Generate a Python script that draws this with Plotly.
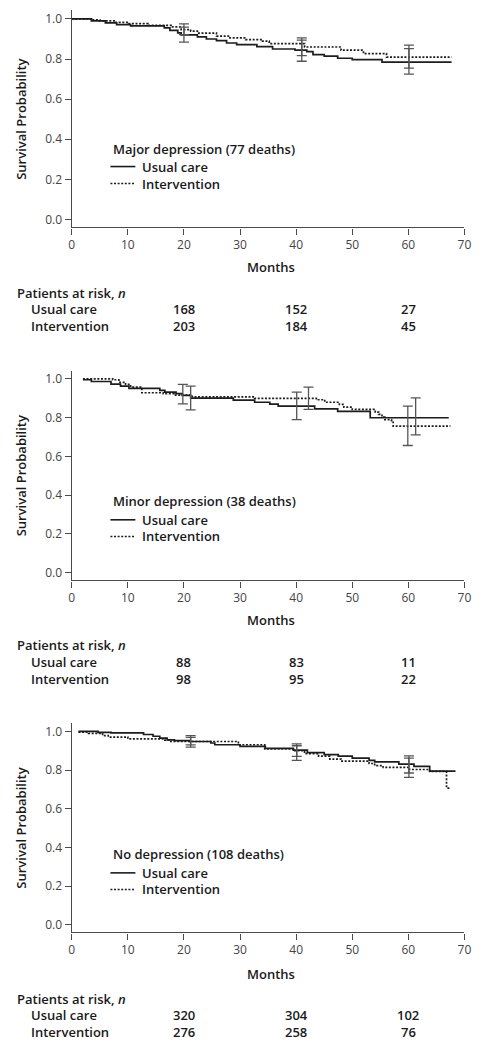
import plotly.graph_objects as go

# ---------------- data ----------------
risk_months = [20, 40, 60]

# Major depression
maj_uc_t = [0, 3.5, 6, 8, 10.5, 16.5, 17.5, 18.9, 19.5, 22.4, 24, 25.8, 27.6, 29.4, 33, 35.8, 39.8, 41.9, 43, 45, 47.4, 50, 55.3, 67.7]
maj_uc_s = [1.0, 0.99, 0.98, 0.972, 0.965, 0.955, 0.943, 0.93, 0.92, 0.91, 0.9, 0.892, 0.88, 0.872, 0.862, 0.85, 0.844, 0.837, 0.822, 0.814, 0.804, 0.797, 0.785, 0.785]
maj_iv_t = [0, 3.5, 5, 7.9, 10.1, 13.6, 17.7, 19.5, 21.2, 22.4, 25.8, 28.2, 31, 34, 35.2, 41.5, 48, 52, 56.1, 67.7]
maj_iv_s = [1.0, 0.995, 0.99, 0.983, 0.977, 0.968, 0.96, 0.947, 0.939, 0.929, 0.914, 0.905, 0.897, 0.889, 0.877, 0.86, 0.844, 0.827, 0.81, 0.81]
maj_ci_x = [20.0, 20.0, 41.0, 41.0, 60.1, 60.1]
maj_ci_lo = [0.884, 0.922, 0.789, 0.817, 0.725, 0.755]
maj_ci_hi = [0.959, 0.975, 0.894, 0.905, 0.852, 0.869]
maj_uc_n = [168, 152, 27]
maj_iv_n = [203, 184, 45]

# Minor depression
min_uc_t = [2.0, 3.5, 7, 8.7, 10.2, 15.7, 16.6, 18.6, 19.7, 21.2, 28.8, 32.6, 35.3, 36.8, 43.3, 47.4, 53.2, 67.2]
min_uc_s = [0.995, 0.986, 0.972, 0.962, 0.951, 0.94, 0.931, 0.923, 0.914, 0.90, 0.89, 0.879, 0.869, 0.859, 0.845, 0.832, 0.799, 0.799]
min_iv_t = [2.0, 7.3, 8.4, 9.6, 10.5, 12.5, 16.3, 18.3, 21.5, 32.6, 43.6, 45.1, 47.7, 48.5, 50, 54.1, 54.7, 55.3, 55.8, 57, 57.3, 67.5]
min_iv_s = [1.0, 0.995, 0.982, 0.971, 0.957, 0.928, 0.923, 0.916, 0.907, 0.899, 0.892, 0.879, 0.868, 0.854, 0.842, 0.828, 0.816, 0.802, 0.789, 0.776, 0.756, 0.756]
min_ci_x = [19.8, 21.2, 40.1, 42.2, 59.9, 61.3]
min_ci_lo = [0.871, 0.840, 0.789, 0.842, 0.656, 0.711]
min_ci_hi = [0.971, 0.962, 0.931, 0.957, 0.859, 0.902]
min_uc_n = [88, 83, 11]
min_iv_n = [98, 95, 22]

# No depression
non_uc_t = [1.2, 4.7, 7, 12.8, 14.5, 15.7, 17, 18.3, 21, 24.8, 25.5, 30, 34.5, 39.5, 42, 45, 47.5, 50, 53, 54, 58.3, 61, 63.8, 68.4]
non_uc_s = [1.0, 0.995, 0.992, 0.984, 0.975, 0.965, 0.956, 0.952, 0.948, 0.94, 0.931, 0.923, 0.912, 0.903, 0.89, 0.88, 0.872, 0.862, 0.85, 0.842, 0.831, 0.819, 0.795, 0.795]
non_iv_t = [1.2, 3, 5.5, 6.5, 10, 16.6, 17.5, 29.7, 34.4, 39.5, 41.5, 44, 46, 48, 53, 54, 55.5, 60.2, 63.8, 66.8, 67.5]
non_iv_s = [0.996, 0.99, 0.978, 0.971, 0.961, 0.955, 0.948, 0.931, 0.909, 0.9, 0.885, 0.872, 0.857, 0.846, 0.834, 0.823, 0.814, 0.803, 0.793, 0.707, 0.707]
non_ci_x = [21.2, 21.2, 40.1, 40.1, 60.1, 60.1]
non_ci_lo = [0.930, 0.919, 0.871, 0.850, 0.785, 0.762]
non_ci_hi = [0.969, 0.978, 0.936, 0.926, 0.874, 0.862]
non_uc_n = [320, 304, 102]
non_iv_n = [276, 258, 76]

group_titles = ["Major depression (77 deaths)", "Minor depression (38 deaths)", "No depression (108 deaths)"]
row_labels = ["Usual care", "Intervention"]
x_ticks = [0, 10, 20, 30, 40, 50, 60, 70]
y_ticks = [0.0, 0.2, 0.4, 0.6, 0.8, 1.0]

# ---------------- layout helpers (page-pixel geometry) ----------------
# The page body keeps its default 8px margin, so the figure is placed at (8, 8).
OFF = 8
W, H = 494 - OFF, 1050 - 2 * OFF
def fx(p): return (p - OFF) / W
def fy(p): return 1 - (p - OFF) / H

FONT = "Open Sans, Lato, sans-serif"
LINE_C = "#1c1c1c"
AX_C = "#4a4a4a"
TICK_C = "#444444"
TXT_C = "#1a1a1a"
DOT = "2px,1.6px"

panels = [
    dict(uc=(maj_uc_t, maj_uc_s), iv=(maj_iv_t, maj_iv_s), ci=(maj_ci_x, maj_ci_lo, maj_ci_hi),
         n=(maj_uc_n, maj_iv_n), top=9.5, bot=226.7, leg=(148.3, 165.7, 182.7),
         months=266.7, risk=(292.3, 308.7, 325.3)),
    dict(uc=(min_uc_t, min_uc_s), iv=(min_iv_t, min_iv_s), ci=(min_ci_x, min_ci_lo, min_ci_hi),
         n=(min_uc_n, min_iv_n), top=370, bot=580, leg=(500.7, 519.3, 536.0),
         months=620.0, risk=(645.0, 661.7, 679.0)),
    dict(uc=(non_uc_t, non_uc_s), iv=(non_iv_t, non_iv_s), ci=(non_ci_x, non_ci_lo, non_ci_hi),
         n=(non_uc_n, non_iv_n), top=723, bot=932.3, leg=(854.3, 872.7, 889.3),
         months=974.3, risk=(999.0, 1015.0, 1032.3)),
]

fig = go.Figure()
annotations = []
shapes = []

X_LEFT, X_RIGHT = 70, 471

for i, p in enumerate(panels):
    k = "" if i == 0 else str(i + 1)
    xa, ya = "x" + k, "y" + k

    # KM curves
    fig.add_trace(go.Scatter(x=p["uc"][0], y=p["uc"][1], mode="lines", line_shape="hv",
                             line=dict(color=LINE_C, width=1.7), xaxis=xa, yaxis=ya,
                             showlegend=False, hoverinfo="skip"))
    fig.add_trace(go.Scatter(x=p["iv"][0], y=p["iv"][1], mode="lines", line_shape="hv",
                             line=dict(color=LINE_C, width=1.7, dash=DOT), xaxis=xa, yaxis=ya,
                             showlegend=False, hoverinfo="skip"))
    # confidence interval bars
    cx, lo, hi = p["ci"]
    mid = [(a + b) / 2 for a, b in zip(lo, hi)]
    half = [(b - a) / 2 for a, b in zip(lo, hi)]
    fig.add_trace(go.Scatter(x=cx, y=mid, mode="markers", marker=dict(size=1, opacity=0),
                             error_y=dict(type="data", array=half, symmetric=True,
                                          color="#555555", thickness=1.3, width=5),
                             xaxis=xa, yaxis=ya, showlegend=False, hoverinfo="skip"))

    dom_y = [fy(p["bot"]), fy(p["top"])]
    axcommon = dict(showline=True, linecolor=AX_C, linewidth=1.4, ticks="outside",
                    ticklen=6, tickwidth=1.4, tickcolor=AX_C, showgrid=False, zeroline=False,
                    tickfont=dict(family=FONT, size=12, color=TICK_C))
    fig.update_layout(**{
        "xaxis" + k: dict(domain=[fx(X_LEFT), fx(X_RIGHT)], range=[0, 70], tickvals=x_ticks,
                          anchor=ya, **axcommon),
        "yaxis" + k: dict(domain=dom_y, range=[-0.04, 1.042], tickvals=y_ticks,
                          tickformat=".1f", anchor=xa, **axcommon),
    })

    tf = dict(family=FONT, size=13, color=TXT_C, weight=600)
    # y-axis title
    annotations.append(dict(text="Survival Probability", x=fx(18), y=fy((p["top"] + p["bot"]) / 2),
                            xref="paper", yref="paper", textangle=-90, showarrow=False,
                            xanchor="center", yanchor="middle", font=tf))
    # x-axis title
    annotations.append(dict(text="Months", x=fx(273), y=fy(p["months"]), xref="paper", yref="paper",
                            showarrow=False, xanchor="center", yanchor="middle", font=tf))
    # legend block
    ly = p["leg"]
    annotations.append(dict(text=group_titles[i], x=fx(110), y=fy(ly[0]), xref="paper", yref="paper",
                            showarrow=False, xanchor="left", yanchor="middle", font=tf))
    for j, lab in enumerate(row_labels):
        annotations.append(dict(text=lab, x=fx(140), y=fy(ly[j + 1]), xref="paper", yref="paper",
                                showarrow=False, xanchor="left", yanchor="middle", font=tf))
        shapes.append(dict(type="line", xref="paper", yref="paper", x0=fx(109.5), x1=fx(135),
                           y0=fy(ly[j + 1]), y1=fy(ly[j + 1]),
                           line=dict(color=LINE_C, width=1.6, dash=("solid" if j == 0 else DOT))))
    # risk table
    ry = p["risk"]
    annotations.append(dict(text="Patients at risk, <i>n</i>", x=fx(12), y=fy(ry[0]), xref="paper",
                            yref="paper", showarrow=False, xanchor="left", yanchor="middle", font=tf))
    for j, lab in enumerate(row_labels):
        annotations.append(dict(text=lab, x=fx(26), y=fy(ry[j + 1]), xref="paper", yref="paper",
                                showarrow=False, xanchor="left", yanchor="middle", font=tf))
        for m, v in zip(risk_months, p["n"][j]):
            annotations.append(dict(text=str(v), x=m, xref=xa, y=fy(ry[j + 1]), yref="paper",
                                    showarrow=False, xanchor="center", yanchor="middle", font=tf))

fig.update_layout(width=W, height=H, margin=dict(l=0, r=0, t=0, b=0),
                  paper_bgcolor="white", plot_bgcolor="white",
                  annotations=annotations, shapes=shapes, showlegend=False)

fig.write_html("out.html")
